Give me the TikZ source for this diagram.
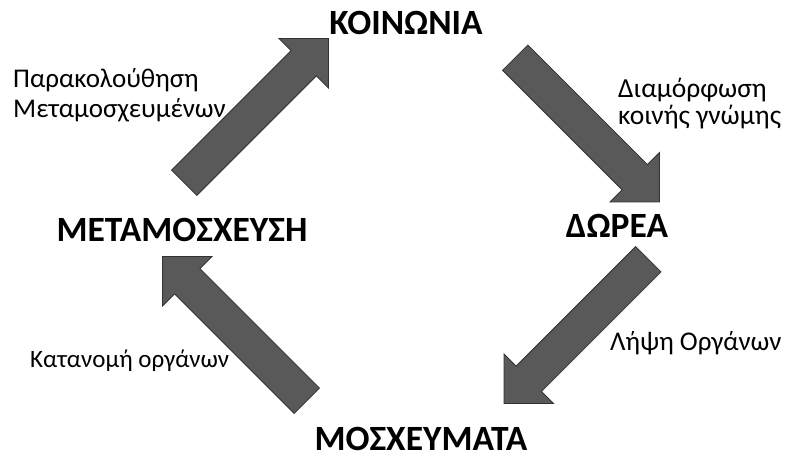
\documentclass[tikz,border=0pt]{standalone}
\usepackage{fontspec}
\setmainfont{Carlito}
\usepackage{tikz}
\usetikzlibrary{shapes.arrows}
\pgfdeclarelayer{background}
\pgfsetlayers{background,main}
\definecolor{arrowfill}{RGB}{89,89,89}
\definecolor{arrowline}{RGB}{50,50,50}

\begin{document}
\begin{tikzpicture}[x=1pt, y=-1pt]

    % Page frame
    \useasboundingbox (0,0) rectangle (793,457);

    % Stages of the cycle
    \tikzset{stage/.style={inner sep = 0pt, anchor = base, font = \fontsize{35.5}{38}\selectfont\bfseries}}

    % Notes beside the arrows (size, line distance)
    \tikzset{note/.style 2 args={inner sep = 0pt, align = left, anchor = base west, font = \fontsize{#1}{#2}\selectfont}}

    % Block arrows
    \tikzset{flow/.style={single arrow, draw = arrowline, fill = arrowfill, thick,
        inner xsep = 0pt, inner ysep = 17.5pt, minimum height = 204pt,
        single arrow head extend = 17pt, single arrow tip angle = 90}}

    % Stage nodes
    \node (soc) [stage] at (406, 35) {ΚΟΙΝΩΝΙΑ};
    	\node (don) [stage] at (617, 238) {ΔΩΡΕΑ};
    	\node (graft) [stage] at (421, 450) {ΜΟΣΧΕΥΜΑΤΑ};
    \node (trans) [stage] at (182, 242) {ΜΕΤΑΜΟΣΧΕΥΣΗ};

    % Notes (anchored on the last line)
    \node (follow) [note = {27}{30}] at (13, 118) {Παρακολούθηση\\Μεταμοσχευμένων};
    	\node (opinion) [note = {27.5}{27}] at (618, 125) {Διαμόρφωση\\κοινής γνώμης};
    	\node (receive) [note = {27}{30}] at (610, 350) {Λήψη Οργάνων};
    \node (share) [note = {25}{30}] at (30, 367) {Κατανομή οργάνων};

    % Background image
    \begin{pgfonlayer}{background}

    	% Cycle arrows
    	\node (toSoc) [flow, rotate = 45] at (250, 117) {};
    		\node (toDon) [flow, rotate = -45] at (581, 123.5) {};
    		\node (toGraft) [flow, rotate = -135] at (582.5, 325) {};
    	\node (toTrans) [flow, rotate = 135] at (241, 335) {};

    \end{pgfonlayer}

\end{tikzpicture}
\end{document}
